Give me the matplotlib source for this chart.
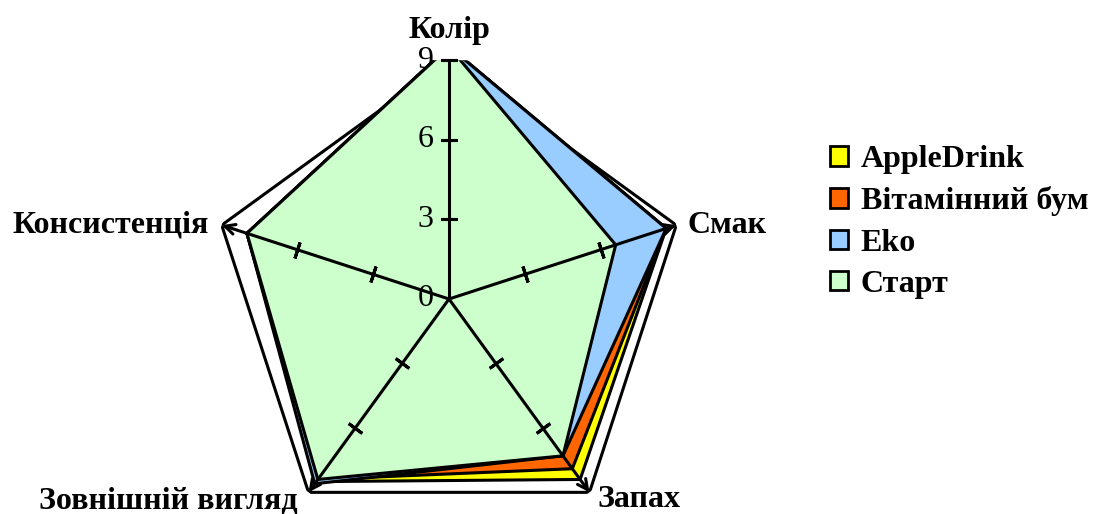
import numpy as np
import matplotlib
matplotlib.use("Agg")
import matplotlib.pyplot as plt
from matplotlib.patches import Patch

plt.rcParams['font.family'] = ['Liberation Serif', 'DejaVu Serif']

# data
categories = ['Колір', 'Смак', 'Запах', 'Зовнішній вигляд', 'Консистенція']
series_names = ['AppleDrink', 'Вітамінний бум', 'Eko', 'Старт']
apple = [9.5, 8.6, 8.4, 8.5, 8.0]
vitamin = [9.5, 8.6, 7.9, 8.4, 8.0]
eko = [9.5, 8.6, 7.3, 8.6, 8.0]
start = [9.5, 6.6, 7.3, 8.4, 8.0]
r_ticks = [0, 3, 6, 9]
colors = ['#FFFF00', '#FF6600', '#99CCFF', '#CCFFCC']

W, H = 1100, 514
cx, cy, R = 449, 299, 239  # centre and radius of the 9 ring, pixels

fig = plt.figure(figsize=(W / 100, H / 100), dpi=100)
ax = fig.add_axes([(cx - R) / W, (H - cy - R) / H, 2 * R / W, 2 * R / H],
                  projection='polar')
ax.set_theta_offset(np.pi / 2)
ax.set_theta_direction(-1)
ax.set_ylim(0, 9)
ax.set_xticks([])
ax.set_yticks([])
ax.spines['polar'].set_visible(False)
ax.grid(False)

n = len(categories)
angles = np.arange(n) * 2 * np.pi / n
closed = np.append(angles, angles[0])

# outer ring at 9
ax.plot(closed, [r_ticks[-1]] * (n + 1), color='black', lw=2.2, zorder=1)

all_series = [apple, vitamin, eko, start]
for vals, c, name in zip(all_series, colors, series_names):
    v = np.append(vals, vals[0])
    ax.fill(closed, v, facecolor=c, edgecolor='black', lw=2.2, zorder=2)

# axis lines
ax.plot([0, 0], [0, 9], color='black', lw=2.2, zorder=5)
for a in angles[1:]:
    ax.annotate('', xy=(a, 9), xytext=(a, 0), annotation_clip=False,
                arrowprops=dict(arrowstyle='->', lw=2.2, color='black',
                                mutation_scale=18, shrinkA=0, shrinkB=0),
                zorder=5)

# tick marks across the axes
for i, a in enumerate(angles):
    deg = np.degrees(a)
    rr = [3, 6, 9] if i == 0 else [3, 6]
    ax.plot([a] * len(rr), rr, linestyle='none', marker=(2, 2, 90 - deg),
            markersize=12, markeredgewidth=2.2, color='black', zorder=6,
            clip_on=False)

# radial tick labels
for t in r_ticks:
    ax.annotate(str(t), xy=(0, t), xytext=(-11, 0), textcoords='offset points',
                ha='right', va='center', fontsize=23, zorder=7,
                annotation_clip=False)

# category labels
offsets = [(0, 21, 'center'), (8, 0, 'left'), (6, -5, 'left'),
           (-8, -6, 'right'), (-9, 0, 'right')]
for a, lab, (dx, dy, ha) in zip(angles, categories, offsets):
    ax.annotate(lab, xy=(a, 9), xytext=(dx, dy), textcoords='offset points',
                ha=ha, va='center', fontsize=23, fontweight='bold',
                annotation_clip=False)

handles = [Patch(facecolor=c, edgecolor='black', lw=2) for c in colors]
fig.legend(handles, series_names, loc='center left',
           bbox_to_anchor=(830 / W, 1 - 222 / H), frameon=False,
           prop={'size': 23, 'weight': 'bold'}, handlelength=0.56,
           handleheight=0.56, handletextpad=0.4, labelspacing=0.38,
           borderpad=0, borderaxespad=0)

fig.savefig('out.png', dpi=100)
